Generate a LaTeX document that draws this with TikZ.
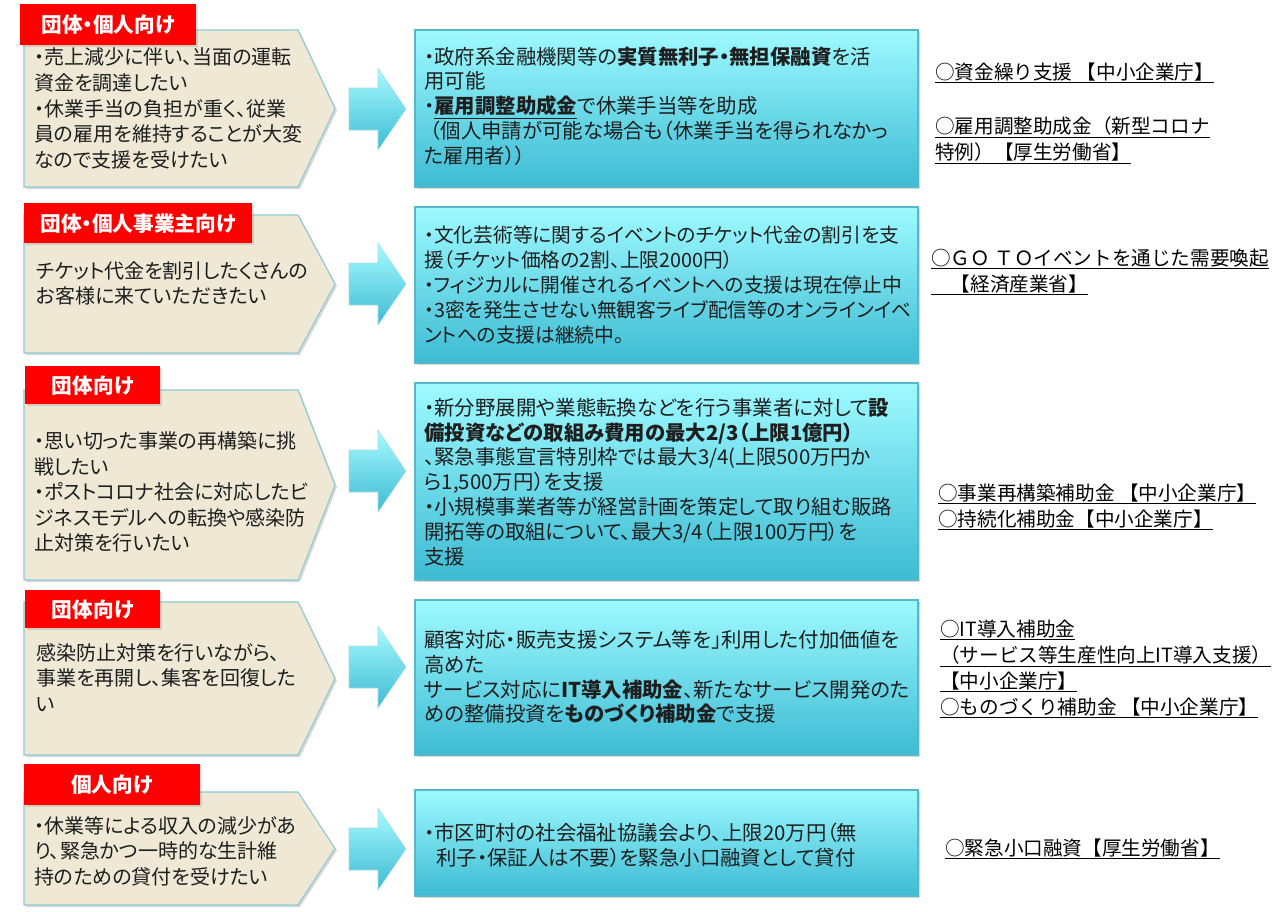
\documentclass[tikz,border=0pt]{standalone}
\usepackage{fontspec}
\setmainfont{Noto Sans CJK JP}[RawFeature=+palt]
\newfontfamily\linkfont{Noto Sans CJK JP}
\usetikzlibrary{shadows}
\definecolor{tabred}{HTML}{FF0000}
\definecolor{beige}{HTML}{EEE8D5}
\definecolor{pentline}{HTML}{8CCAD4}
\definecolor{boxtop}{HTML}{9EFAFF}
\definecolor{boxbot}{HTML}{3DBBD3}
\definecolor{boxline}{HTML}{55B8CB}
\definecolor{txt}{HTML}{1E1E1E}
\newcommand\ulx[1]{\underline{#1}}
\newcommand\mypent[3]{%
  \path[pentst] (24,#2) -- (298,#2) -- (335,{(#2+#3)/2}) -- (298,#3) -- (24,#3) -- cycle;
  \coordinate (#1) at (335,{(#2+#3)/2});}
\newcommand\myarrow[2]{%
  \path[arrowst] (349,{#2-21}) -- (378,{#2-21}) -- (378,{#2-41}) -- (406,#2) -- (378,{#2+41}) -- (378,{#2+21}) -- (349,{#2+21}) -- cycle;
  \coordinate (#1) at (406,#2);}
\newcommand\mybox[3]{%
  \path[boxst] (415,#2) rectangle (918,#3);
  \coordinate (#1) at (415,{(#2+#3)/2});}
\begin{document}
\begin{tikzpicture}[x=0.75pt,y=-0.75pt,
  pentst/.style={fill=beige, draw=pentline, line width=0.8pt,
    drop shadow={shadow xshift=1.5pt, shadow yshift=-1.5pt, opacity=0.3}},
  boxst/.style={draw=boxline, line width=0.8pt, top color=boxtop, bottom color=boxbot,
    drop shadow={shadow xshift=1.5pt, shadow yshift=-1.5pt, opacity=0.3}},
  arrowst/.style={draw=boxline!50, line width=0.4pt, top color=boxtop!90!white, bottom color=boxbot},
  tabst/.style={fill=tabred, text=white, inner sep=0pt, anchor=north west,
    font=\fontsize{15.5}{18}\selectfont\bfseries,
    drop shadow={shadow xshift=1pt, shadow yshift=-1pt, opacity=0.25}},
  needst/.style={anchor=west, align=left, inner sep=0pt, text=txt,
    font=\fontsize{15}{19.2}\selectfont},
  supst/.style={anchor=west, align=left, inner sep=0pt, text=txt,
    font=\fontsize{15.3}{18.6}\selectfont},
  linkst/.style={anchor=west, align=left, inner sep=0pt, text=black,
    font=\linkfont\fontsize{14.7}{19.5}\selectfont}]
\fill[white] (0,0) rectangle (1288,911);
\useasboundingbox (0,0) rectangle (1288,911);

% shapes
\mypent{p1}{30}{187}
\mypent{p2}{215}{353}
\mypent{p3}{390}{580}
\mypent{p4}{602}{755}
\mypent{p5}{792}{905}

\myarrow{a1}{109}
\myarrow{a2}{284}
\myarrow{a3}{471}
\myarrow{a4}{667}
\myarrow{a5}{849}

\mybox{b1}{30}{187}
\mybox{b2}{207}{363}
\mybox{b3}{383}{580}
\mybox{b4}{600}{755}
\mybox{b5}{790}{896}

% tabs
\node[tabst, minimum width=132pt, minimum height=30.75pt] (tab1) at (20,4) {団体・個人向け};
\node[tabst, minimum width=171pt, minimum height=30pt] (tab2) at (24,203) {団体・個人事業主向け};
\node[tabst, minimum width=101.25pt, minimum height=28.5pt] (tab3) at (25,366) {団体向け};
\node[tabst, minimum width=101.25pt, minimum height=28.5pt] (tab4) at (25,590) {団体向け};
\node[tabst, minimum width=132pt, minimum height=30.75pt] (tab5) at (24,764) {個人向け};

% needs
\node[needst] (n1) at (34,108.5) {・売上減少に伴い、当面の運転\\資金を調達したい\\・休業手当の負担が重く、従業\\員の雇用を維持することが大変\\なので支援を受けたい};
\node[needst] (n2) at (36,283.5) {チケット代金を割引したくさんの\\お客様に来ていただきたい};
\node[needst] (n3) at (34,492) {・思い切った事業の再構築に挑\\戦したい\\・ポストコロナ社会に対応したビ\\ジネスモデルへの転換や感染防\\止対策を行いたい};
\node[needst] (n4) at (36,677.5) {感染防止対策を行いながら、\\事業を再開し、集客を回復した\\い};
\node[needst] (n5) at (34,851) {・休業等による収入の減少があ\\り、緊急かつ一時的な生計維\\持のための貸付を受けたい};

% support
\node[supst] (s1) at (424,106) {・政府系金融機関等の\textbf{実質無利子・無担保融資}を活\\用可能\\・\textbf{\ulx{雇用調整助成金}}で休業手当等を助成\\\hspace*{0.3em}（個人申請が可能な場合も（休業手当を得られなかっ\\た雇用者））};
\node[supst, font=\fontsize{14.8}{18.6}\selectfont] (s2) at (424,285) {・文化芸術等に関するイベントのチケット代金の割引を支\\援（チケット価格の2割、上限2000円）\\・フィジカルに開催されるイベントへの支援は現在停止中\\・3密を発生させない無観客ライブ配信等のオンラインイベ\\ントへの支援は継続中。};
\node[supst] (s3) at (424,482) {・新分野展開や業態転換などを行う事業者に対して\textbf{設}\\\textbf{備投資などの取組み費用の最大2/3（上限1億円）}\\、緊急事態宣言特別枠では最大3/4(上限500万円か\\ら1,500万円）を支援\\・小規模事業者等が経営計画を策定して取り組む販路\\開拓等の取組について、最大3/4（上限100万円）を\\支援};
\node[supst] (s4) at (424,677) {顧客対応・販売支援システム等を｣利用した付加価値を\\高めた\\サービス対応に\textbf{IT導入補助金}、新たなサービス開発のた\\めの整備投資を\textbf{ものづくり補助金}で支援};
\node[supst] (s5) at (424,845) {・市区町村の社会福祉協議会より、上限20万円（無\\\hspace*{0.6em}利子・保証人は不要）を緊急小口融資として貸付};

% links
\node[linkst] (l1a) at (935,73) {\ulx{○資金繰り支援 【中小企業庁】}};
\node[linkst] (l1b) at (935,140) {\ulx{○雇用調整助成金（新型コロナ}\\\ulx{特例）【厚生労働省】}};
\node[linkst] (l2) at (931,272) {\ulx{○ＧＯ ＴＯイベントを通じた需要喚起}\\\ulx{　【経済産業省】}};
\node[linkst] (l3) at (938,507) {\ulx{○事業再構築補助金 【中小企業庁】}\\\ulx{○持続化補助金【中小企業庁】}};
\node[linkst] (l4) at (940,669) {\ulx{○IT導入補助金}\\\ulx{（サービス等生産性向上IT導入支援）}\\\ulx{【中小企業庁】}\\\ulx{○ものづくり補助金 【中小企業庁】}};
\node[linkst] (l5) at (945,849) {\ulx{○緊急小口融資【厚生労働省】}};
\end{tikzpicture}
\end{document}
